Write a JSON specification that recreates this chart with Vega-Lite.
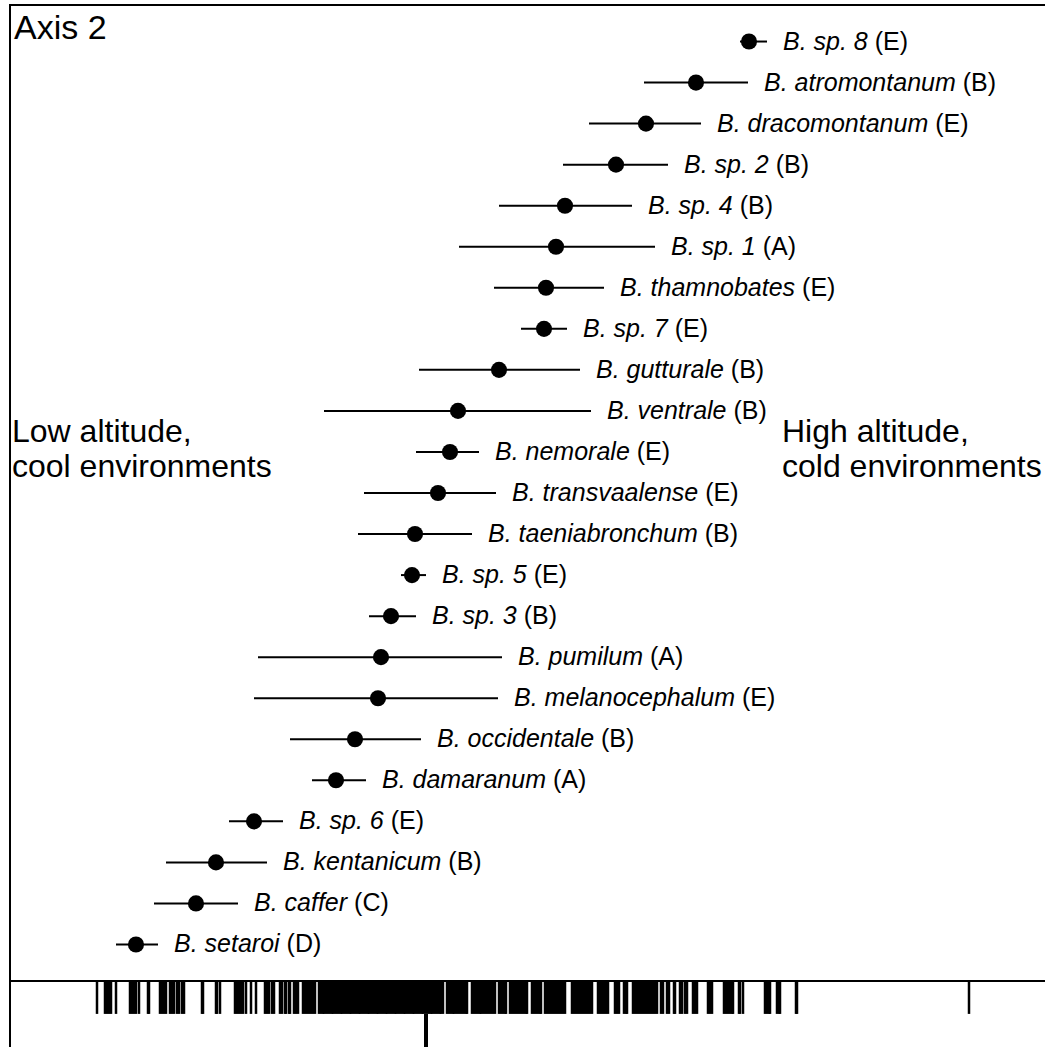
{
  "$schema": "https://vega.github.io/schema/vega-lite/v6.json",
  "background": "white",
  "padding": {"left": 9, "top": 4, "right": 0, "bottom": 0},
  "autosize": {"type": "pad"},
  "spacing": 0,
  "bounds": "flush",
  "config": {
    "view": {"stroke": "black", "strokeWidth": 2},
    "font": "Liberation Sans"
  },
  "vconcat": [
    {
      "width": 1040,
      "height": 976,
      "data": {
        "values": [
          {"species": "B. sp. 8", "clade": "E", "mean": 3.23, "lo": 3.14, "hi": 3.41},
          {"species": "B. atromontanum", "clade": "B", "mean": 2.70, "lo": 2.18, "hi": 3.22},
          {"species": "B. dracomontanum", "clade": "E", "mean": 2.20, "lo": 1.63, "hi": 2.75},
          {"species": "B. sp. 2", "clade": "B", "mean": 1.90, "lo": 1.37, "hi": 2.42},
          {"species": "B. sp. 4", "clade": "B", "mean": 1.39, "lo": 0.73, "hi": 2.06},
          {"species": "B. sp. 1", "clade": "A", "mean": 1.30, "lo": 0.33, "hi": 2.29},
          {"species": "B. thamnobates", "clade": "E", "mean": 1.20, "lo": 0.68, "hi": 1.78},
          {"species": "B. sp. 7", "clade": "E", "mean": 1.18, "lo": 0.95, "hi": 1.41},
          {"species": "B. gutturale", "clade": "B", "mean": 0.73, "lo": -0.07, "hi": 1.54},
          {"species": "B. ventrale", "clade": "B", "mean": 0.32, "lo": -1.02, "hi": 1.65},
          {"species": "B. nemorale", "clade": "E", "mean": 0.24, "lo": -0.10, "hi": 0.53},
          {"species": "B. transvaalense", "clade": "E", "mean": 0.12, "lo": -0.62, "hi": 0.70},
          {"species": "B. taeniabronchum", "clade": "B", "mean": -0.11, "lo": -0.68, "hi": 0.46},
          {"species": "B. sp. 5", "clade": "E", "mean": -0.14, "lo": -0.25, "hi": 0.00},
          {"species": "B. sp. 3", "clade": "B", "mean": -0.35, "lo": -0.57, "hi": -0.10},
          {"species": "B. pumilum", "clade": "A", "mean": -0.45, "lo": -1.68, "hi": 0.76},
          {"species": "B. melanocephalum", "clade": "E", "mean": -0.48, "lo": -1.72, "hi": 0.72},
          {"species": "B. occidentale", "clade": "B", "mean": -0.71, "lo": -1.36, "hi": -0.05},
          {"species": "B. damaranum", "clade": "A", "mean": -0.90, "lo": -1.14, "hi": -0.60},
          {"species": "B. sp. 6", "clade": "E", "mean": -1.72, "lo": -1.97, "hi": -1.43},
          {"species": "B. kentanicum", "clade": "B", "mean": -2.10, "lo": -2.60, "hi": -1.59},
          {"species": "B. caffer", "clade": "C", "mean": -2.30, "lo": -2.72, "hi": -1.88},
          {"species": "B. setaroi", "clade": "D", "mean": -2.90, "lo": -3.10, "hi": -2.68}
        ]
      },
      "encoding": {
        "y": {
          "field": "species",
          "type": "nominal",
          "scale": {
            "type": "point",
            "padding": 0.89,
            "domain": ["B. sp. 8", "B. atromontanum", "B. dracomontanum", "B. sp. 2", "B. sp. 4", "B. sp. 1", "B. thamnobates", "B. sp. 7", "B. gutturale", "B. ventrale", "B. nemorale", "B. transvaalense", "B. taeniabronchum", "B. sp. 5", "B. sp. 3", "B. pumilum", "B. melanocephalum", "B. occidentale", "B. damaranum", "B. sp. 6", "B. kentanicum", "B. caffer", "B. setaroi"]
          },
          "axis": null
        }
      },
      "layer": [
        {
          "mark": {"type": "rule", "color": "black", "strokeWidth": 2},
          "encoding": {
            "x": {"field": "lo", "type": "quantitative", "scale": {"domain": [-4.16, 6.24], "nice": false, "zero": false}, "axis": null},
            "x2": {"field": "hi"}
          }
        },
        {
          "mark": {"type": "point", "shape": "circle", "filled": true, "color": "black", "opacity": 1, "size": 260},
          "encoding": {
            "x": {"field": "mean", "type": "quantitative"}
          }
        },
        {
          "mark": {"type": "text", "align": "left", "baseline": "middle", "fontStyle": "italic", "fontSize": 25, "dx": 16, "color": "black"},
          "encoding": {
            "x": {"field": "hi", "type": "quantitative"},
            "text": {"field": "species"}
          }
        },
        {
          "transform": [
            {"calculate": "0.222*length(replace(datum.species, regexp('[^ijl]','g'), '')) + 0.278*length(replace(datum.species, regexp('[^ft. ]','g'), '')) + 0.333*length(replace(datum.species, regexp('[^r]','g'), '')) + 0.5*length(replace(datum.species, regexp('[^cksvxyz]','g'), '')) + 0.556*length(replace(datum.species, regexp('[^abdeghnopqu0-9]','g'), '')) + 0.833*length(replace(datum.species, regexp('[^m]','g'), '')) + 0.667*length(replace(datum.species, regexp('[^B]','g'), ''))", "as": "nameEm"},
            {"calculate": "'(' + datum.clade + ')'", "as": "cladeLabel"}
          ],
          "mark": {"type": "text", "align": "left", "baseline": "middle", "fontSize": 25, "color": "black", "dx": {"expr": "16 + 25 * (datum.nameEm + 0.278)"}},
          "encoding": {
            "x": {"field": "hi", "type": "quantitative"},
            "text": {"field": "cladeLabel"}
          }
        },
        {
          "data": {"values": [{"note": "Axis 2"}]},
          "mark": {"type": "text", "align": "left", "baseline": "alphabetic", "fontSize": 34, "dy": -3, "color": "black"},
          "encoding": {
            "x": {"datum": -4.12},
            "y": {"datum": "B. sp. 8", "type": "nominal"},
            "text": {"field": "note"}
          }
        },
        {
          "data": {"values": [{"line1": "Low altitude,", "line2": "cool environments"}]},
          "mark": {"type": "text", "align": "left", "baseline": "middle", "fontSize": 32, "lineHeight": 35, "dy": -20, "color": "black"},
          "encoding": {
            "x": {"datum": -4.14},
            "y": {"datum": "B. nemorale", "type": "nominal"},
            "text": {"value": ["Low altitude,", "cool environments"]}
          }
        },
        {
          "data": {"values": [{"line1": "High altitude,", "line2": "cold environments"}]},
          "mark": {"type": "text", "align": "left", "baseline": "middle", "fontSize": 32, "lineHeight": 35, "dy": -20, "color": "black"},
          "encoding": {
            "x": {"datum": 3.56},
            "y": {"datum": "B. nemorale", "type": "nominal"},
            "text": {"value": ["High altitude,", "cold environments"]}
          }
        }
      ]
    },
    {
      "width": 1040,
      "height": 70,
      "layer": [
        {
          "data": {
            "values": [
              {"score": -3.29}, {"score": -3.21}, {"score": -3.19}, {"score": -3.17}, {"score": -3.15}, {"score": -3.10},
              {"score": -2.96}, {"score": -2.94}, {"score": -2.92}, {"score": -2.90}, {"score": -2.87}, {"score": -2.78},
              {"score": -2.77}, {"score": -2.66}, {"score": -2.64}, {"score": -2.62}, {"score": -2.60}, {"score": -2.56},
              {"score": -2.54}, {"score": -2.52}, {"score": -2.49}, {"score": -2.47}, {"score": -2.44}, {"score": -2.42},
              {"score": -2.24}, {"score": -2.23}, {"score": -2.10}, {"score": -2.09}, {"score": -2.06}, {"score": -1.91},
              {"score": -1.89}, {"score": -1.87}, {"score": -1.85}, {"score": -1.83}, {"score": -1.80}, {"score": -1.75},
              {"score": -1.70}, {"score": -1.61}, {"score": -1.59}, {"score": -1.57}, {"score": -1.54}, {"score": -1.52},
              {"score": -1.46}, {"score": -1.44}, {"score": -1.41}, {"score": -1.40}, {"score": -1.37}, {"score": -1.36},
              {"score": -1.32}, {"score": -1.30}, {"score": -1.28}, {"score": -1.23}, {"score": -1.21}, {"score": -1.19},
              {"score": -1.17}, {"score": -1.15}, {"score": -1.13}, {"score": -1.11},
              {"score": -1.07}, {"score": -1.05}, {"score": -1.03}, {"score": -1.02}, {"score": -1.00}, {"score": -0.98},
              {"score": -0.96}, {"score": -0.94}, {"score": -0.93}, {"score": -0.91}, {"score": -0.89}, {"score": -0.87},
              {"score": -0.85}, {"score": -0.84}, {"score": -0.82}, {"score": -0.80}, {"score": -0.78}, {"score": -0.76},
              {"score": -0.75}, {"score": -0.73}, {"score": -0.71}, {"score": -0.69}, {"score": -0.67}, {"score": -0.66},
              {"score": -0.64}, {"score": -0.62}, {"score": -0.60}, {"score": -0.58}, {"score": -0.57}, {"score": -0.55},
              {"score": -0.53}, {"score": -0.51}, {"score": -0.49}, {"score": -0.48}, {"score": -0.46}, {"score": -0.44},
              {"score": -0.42}, {"score": -0.40}, {"score": -0.39}, {"score": -0.37}, {"score": -0.35}, {"score": -0.33},
              {"score": -0.31}, {"score": -0.30}, {"score": -0.28}, {"score": -0.26}, {"score": -0.24}, {"score": -0.22},
              {"score": -0.21}, {"score": -0.19}, {"score": -0.17}, {"score": -0.15}, {"score": -0.13}, {"score": -0.12},
              {"score": -0.10}, {"score": -0.08}, {"score": -0.06}, {"score": -0.04}, {"score": -0.03}, {"score": -0.01},
              {"score": 0.01}, {"score": 0.03}, {"score": 0.05}, {"score": 0.06}, {"score": 0.08}, {"score": 0.10},
              {"score": 0.12}, {"score": 0.14}, {"score": 0.15}, {"score": 0.17},
              {"score": 0.21}, {"score": 0.23}, {"score": 0.25}, {"score": 0.27}, {"score": 0.28}, {"score": 0.30},
              {"score": 0.32}, {"score": 0.34}, {"score": 0.36}, {"score": 0.38}, {"score": 0.40}, {"score": 0.41},
              {"score": 0.46}, {"score": 0.48}, {"score": 0.50}, {"score": 0.52}, {"score": 0.54}, {"score": 0.55},
              {"score": 0.57}, {"score": 0.59}, {"score": 0.61}, {"score": 0.63}, {"score": 0.65}, {"score": 0.67},
              {"score": 0.69}, {"score": 0.73}, {"score": 0.75}, {"score": 0.77}, {"score": 0.79}, {"score": 0.80},
              {"score": 0.84}, {"score": 0.86}, {"score": 0.88}, {"score": 0.90}, {"score": 0.92}, {"score": 0.94},
              {"score": 0.96}, {"score": 0.98}, {"score": 1.00}, {"score": 1.01},
              {"score": 1.06}, {"score": 1.08}, {"score": 1.10}, {"score": 1.12}, {"score": 1.14}, {"score": 1.15},
              {"score": 1.19}, {"score": 1.21}, {"score": 1.23}, {"score": 1.25}, {"score": 1.27}, {"score": 1.29},
              {"score": 1.31}, {"score": 1.33}, {"score": 1.35}, {"score": 1.37}, {"score": 1.39},
              {"score": 1.46}, {"score": 1.48}, {"score": 1.50}, {"score": 1.52}, {"score": 1.54}, {"score": 1.56},
              {"score": 1.58}, {"score": 1.60}, {"score": 1.62}, {"score": 1.64}, {"score": 1.66},
              {"score": 1.72}, {"score": 1.74}, {"score": 1.76}, {"score": 1.78}, {"score": 1.80}, {"score": 1.82},
              {"score": 1.89}, {"score": 1.91}, {"score": 1.93},
              {"score": 1.98}, {"score": 2.00}, {"score": 2.01},
              {"score": 2.07}, {"score": 2.09}, {"score": 2.11}, {"score": 2.13}, {"score": 2.15}, {"score": 2.17},
              {"score": 2.19}, {"score": 2.21}, {"score": 2.23}, {"score": 2.25}, {"score": 2.27}, {"score": 2.29},
              {"score": 2.31},
              {"score": 2.35}, {"score": 2.37}, {"score": 2.41}, {"score": 2.43}, {"score": 2.48}, {"score": 2.49},
              {"score": 2.54}, {"score": 2.56}, {"score": 2.59}, {"score": 2.61},
              {"score": 2.67}, {"score": 2.69}, {"score": 2.71},
              {"score": 2.82}, {"score": 2.84}, {"score": 2.86},
              {"score": 2.98}, {"score": 3.00}, {"score": 3.02}, {"score": 3.04}, {"score": 3.06}, {"score": 3.07},
              {"score": 3.13}, {"score": 3.14}, {"score": 3.17},
              {"score": 3.39}, {"score": 3.41}, {"score": 3.43}, {"score": 3.44},
              {"score": 3.51}, {"score": 3.53}, {"score": 3.54},
              {"score": 3.70}, {"score": 3.71},
              {"score": 5.43}
            ]
          },
          "mark": {"type": "rule", "color": "black", "strokeWidth": 2.5},
          "encoding": {
            "x": {"field": "score", "type": "quantitative", "scale": {"domain": [-4.16, 6.24], "nice": false, "zero": false}, "axis": null},
            "y": {"datum": 1, "type": "quantitative", "scale": {"domain": [0, 1]}, "axis": null},
            "y2": {"datum": 0.53}
          }
        },
        {
          "data": {"values": [{"origin": 0}]},
          "mark": {"type": "rule", "color": "black", "strokeWidth": 4},
          "encoding": {
            "x": {"field": "origin", "type": "quantitative"},
            "y": {"datum": 0.53, "type": "quantitative"},
            "y2": {"datum": 0}
          }
        }
      ]
    }
  ]
}
